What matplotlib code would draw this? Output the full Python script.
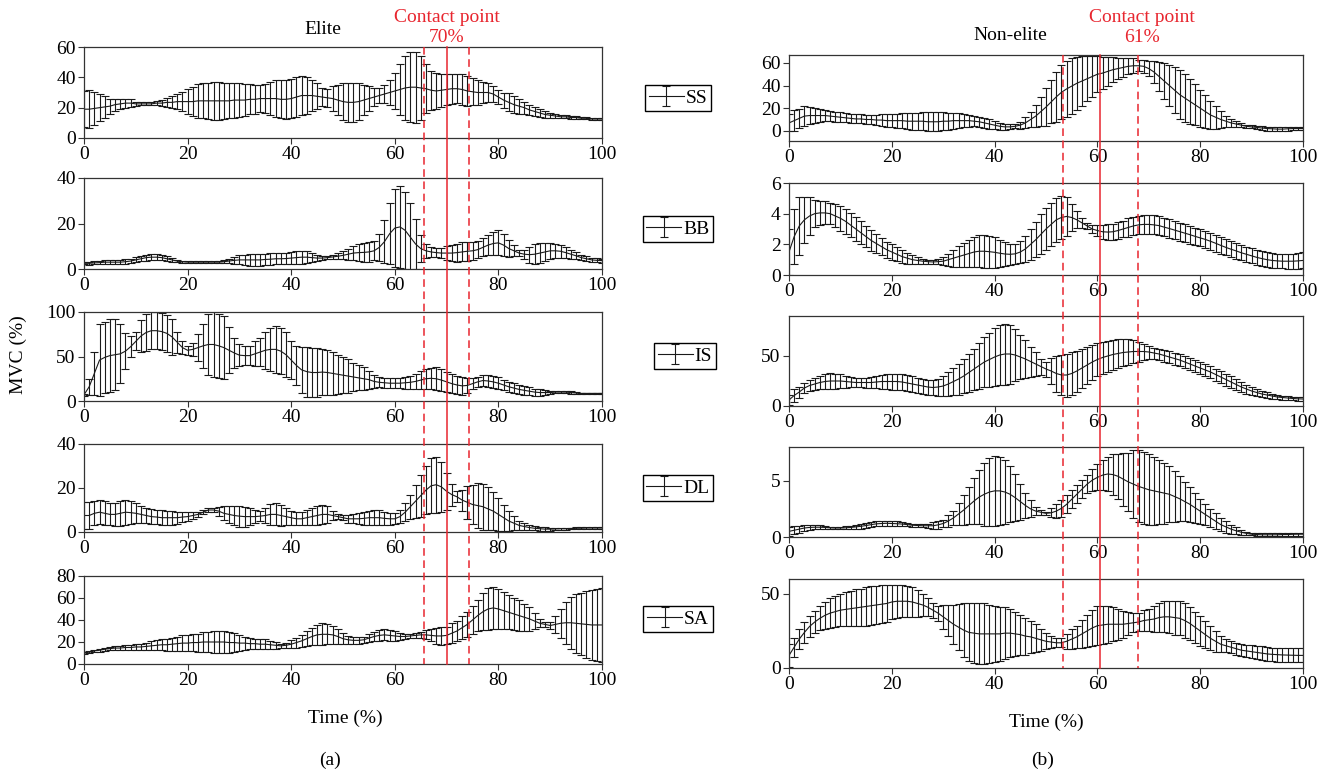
import numpy as np
import matplotlib
matplotlib.use("Agg")
import matplotlib.pyplot as plt
from matplotlib.lines import Line2D

plt.rcParams['font.family'] = ['Liberation Serif', 'DejaVu Serif']

# time axis (% of movement)
time_pct = list(range(0, 101))

# ---- Elite group: mean and SD of %MVC ----
ss_elite_mean = [19, 19, 19.5, 20, 20.5, 21, 22, 22.5, 23, 23,
                 22.5, 22.5, 22.5, 22.5, 23, 23, 23.5, 23.5, 24, 24,
                 24, 24, 24.5, 24.5, 24.5, 24.5, 24.5, 24.5, 24.5, 25,
                 25, 25, 25.5, 25.5, 26, 26, 26, 26, 25.5, 25.5,
                 26, 27, 28, 28, 28, 27.5, 27, 26.5, 26, 25,
                 24, 23.5, 23.5, 24, 25, 26, 27, 28, 29, 30,
                 31, 32, 33, 33.5, 33.5, 33, 32.5, 31.5, 31, 31.5,
                 32, 32.5, 32.5, 32, 31, 30.5, 30, 30, 30, 29,
                 27, 25, 23.5, 22, 21, 20, 18.5, 17.5, 16.5, 15.5,
                 15, 14.5, 14, 14, 13.5, 13.5, 13, 13, 12.5, 12.5, 12.5]
ss_elite_sd = [12, 12.5, 11, 9, 7, 5, 4, 3.5, 3, 2.5,
               1.5, 1, 1, 1, 1.5, 2, 3, 4, 5, 6.5,
               8, 9.5, 11, 11.5, 12, 12.5, 12.5, 12, 11.5, 11.5,
               11, 10.5, 10, 9.5, 9, 9.5, 11, 12, 12.5, 13,
               13, 13, 13, 12, 10.5, 8.5, 6, 6, 8, 10,
               12, 13, 13, 12, 10, 8, 6, 5, 6, 8,
               12, 17, 21, 23, 23.5, 21, 16, 13, 12, 11,
               10, 10, 9.5, 10, 10, 9, 8, 7, 6, 5,
               4.5, 5, 6, 5.5, 5, 4, 3.5, 3, 2.5, 2,
               1.5, 1.2, 1, 1, 1, 0.8, 0.8, 0.8, 0.8, 0.8, 0.8]

bb_elite_mean = [2.5, 2.5, 2.7, 2.8, 3, 3, 3, 3, 3.2, 3.5,
                 4, 4.5, 5, 5.2, 5.2, 5, 4.5, 4, 3.5, 3.2,
                 3, 3, 3, 3, 3, 3, 3, 3.2, 3.5, 3.8,
                 4, 4, 4, 4, 4, 4.2, 4.3, 4.5, 4.5, 4.6,
                 4.8, 5, 5.2, 5.2, 5, 4.8, 4.8, 5, 5.3, 5.6,
                 6, 6.5, 7, 7.2, 7.3, 7.5, 8, 9.5, 12, 15.5,
                 18, 18.5, 17, 14, 11, 9, 8, 7.5, 7.2, 7,
                 7, 7, 7.2, 7.5, 7.8, 8, 8.5, 9.5, 10.5, 11.2,
                 11.5, 10.5, 9, 8, 7, 6.5, 6.3, 6.5, 7, 7.5,
                 8, 8, 7.8, 7.2, 6.5, 5.8, 5, 4.5, 4, 3.8, 3.7]
bb_elite_sd = [0.5, 0.6, 0.7, 0.8, 0.9, 1, 1, 1, 1, 1,
               1.1, 1.2, 1.3, 1.3, 1.3, 1.2, 1, 0.8, 0.6, 0.5,
               0.4, 0.3, 0.3, 0.3, 0.3, 0.3, 0.4, 0.6, 1, 1.5,
               2, 2.3, 2.5, 2.5, 2.6, 2.6, 2.6, 2.5, 2.5, 2.5,
               2.6, 2.7, 2.8, 2.5, 2, 1.2, 0.8, 0.8, 1, 1.3,
               1.8, 2.5, 3.2, 3.8, 4.2, 4.3, 4.2, 6, 9.5, 13.5,
               17, 18, 17, 15, 11, 6, 3, 2.2, 2, 2.3,
               3, 3.7, 4, 4.2, 4.2, 4, 3.8, 4, 4.5, 5,
               5.5, 5, 3.8, 2.5, 1.5, 2, 3.5, 4.5, 4.5, 4,
               3.5, 3, 2.8, 2.5, 2, 1.5, 1.2, 1, 1, 0.9, 0.9]

is_elite_mean = [7, 16, 31, 46, 49, 51, 52, 53, 56, 61,
                 67, 73, 77, 79, 79, 78, 76, 72, 66, 60,
                 57, 58, 60, 62, 63.5, 63.5, 62, 60, 57, 54,
                 51.5, 51, 51, 53, 55, 57, 58, 58, 56, 52,
                 46, 40, 35, 33, 32, 32, 32.5, 32, 31, 30,
                 29, 28, 27, 26, 25, 24, 22, 21, 20.5, 20,
                 20, 20, 20.5, 21, 22, 23.5, 25, 25.5, 25, 23.5,
                 21.5, 19.5, 18, 17, 17.5, 19.5, 21.5, 23, 22.5, 21.5,
                 20, 18, 16, 14.5, 13, 12, 11, 10, 9.5, 9.5,
                 9.5, 10, 10, 10, 9.5, 9, 8.5, 8.5, 8.5, 8.5, 8.5]
is_elite_sd = [1, 9, 24, 40, 40, 41, 40, 33, 20, 12,
               10, 18, 21, 21, 21, 21, 21, 20, 12, 7,
               5, 7, 15, 25, 34, 37, 36, 35, 26, 17,
               12, 11, 11, 14, 16, 21, 24, 26, 26, 25,
               21, 22, 26, 28, 28, 28, 26, 25, 24, 22,
               20, 19, 16, 14, 13, 10, 7, 5.5, 5.5, 5.5,
               5.5, 5.5, 6.5, 7, 8.5, 10, 11, 12, 13, 12.5,
               11, 10.5, 10.5, 10, 8, 6, 6, 6.5, 7, 7,
               6.5, 5.5, 5.5, 5.5, 5.5, 5, 4.5, 4, 3.5, 2.5,
               1.5, 1.2, 1.2, 1.2, 1.2, 1, 1, 1, 1, 1, 1]

dl_elite_mean = [7.5, 7.5, 8.5, 9, 8.5, 8, 8, 8.5, 9, 8.8,
                 8.5, 8, 7.5, 7, 6.8, 6.5, 6.5, 6.5, 6.5, 6.8,
                 7, 7.5, 8, 9, 10, 10, 9.5, 8.5, 8, 7.5,
                 7.2, 7, 7, 7, 7.2, 7.5, 8, 8, 7.5, 7,
                 6.5, 6, 6, 6.5, 7, 7.5, 8, 8, 7.5, 7,
                 6.5, 6, 6, 6, 6.2, 6.5, 6.5, 6.5, 6.2, 6,
                 6, 7, 9, 11.5, 14, 16.5, 19, 21, 21.5, 20.5,
                 18.5, 17, 16, 14.5, 13.5, 12.5, 12, 11.5, 10.5, 9.5,
                 8, 6.5, 5, 4, 3, 2.5, 2, 1.7, 1.5, 1.3,
                 1.3, 1.4, 1.5, 1.5, 1.6, 1.7, 1.7, 1.8, 1.8, 1.8, 1.8]
dl_elite_sd = [6.2, 6, 5.5, 5.5, 5.5, 5, 5.2, 5.7, 5.7, 5.3,
               4.5, 4, 3.5, 3.5, 3.3, 3.3, 3.2, 3.2, 2.8, 2.3,
               2, 1.5, 1.2, 1, 1, 1, 2, 3.2, 4, 4.5,
               4.7, 4.5, 4, 3, 2.3, 3.5, 4.8, 5, 4.8, 3.8,
               3.2, 3, 3, 3.5, 3.8, 4.2, 4.5, 3.8, 2, 1.3,
               1.2, 1.8, 2, 2.5, 2.8, 3.2, 3.5, 3.5, 3, 2.8,
               2.5, 2.8, 4, 5.5, 7.5, 9.5, 11, 12.5, 12.8, 11.5,
               8.5, 5, 2.5, 4.8, 7.5, 8.8, 10.2, 10.5, 9.8, 8.5,
               7.5, 6, 4.5, 3.2, 2, 1.4, 1.1, 1, 1, 0.8,
               0.65, 0.55, 0.5, 0.45, 0.4, 0.4, 0.35, 0.35, 0.35, 0.35, 0.35]

sa_elite_mean = [10, 11, 12, 12.5, 13.5, 14, 14.5, 14.5, 15, 15,
                 15.5, 15.5, 16, 16.5, 17, 17.5, 17.5, 18, 18.5, 19,
                 19, 19.5, 19.5, 20, 20, 20, 20, 20, 19.5, 19.5,
                 19, 19, 18.5, 18.5, 18, 18, 17.5, 17, 16.5, 17,
                 18, 19.5, 21, 23, 25, 26.5, 27, 27, 26.5, 25,
                 23, 22, 21.5, 21.5, 22, 23.5, 25, 26, 26.5, 26,
                 25.5, 25, 25, 25.5, 26, 26.5, 26.5, 26, 25.5, 25.5,
                 26, 28, 30, 33, 36, 40, 44, 47.5, 50, 51,
                 50, 48.5, 47, 45.5, 44, 42.5, 41, 39, 37, 36,
                 35, 36, 37, 37.5, 37.5, 37, 36.5, 36, 35.5, 35.5, 35.5]
sa_elite_sd = [1, 1, 1, 1.2, 1.3, 1.5, 1.7, 2, 2.2, 2.3,
               2.5, 3, 3.5, 4, 4.5, 5, 5.5, 6, 6.5, 7,
               7.3, 7.6, 8.2, 8.8, 9.5, 10, 10.2, 10.2, 9.5, 8.5,
               7, 6, 5, 4.5, 4.5, 4.3, 3.8, 3, 2, 2.5,
               3.5, 4.5, 5.5, 6.8, 8, 9.2, 10, 9.2, 8, 6.5,
               5, 3.8, 3, 3, 3, 3.8, 4.5, 5, 5, 4.8,
               4.5, 3.3, 2, 2, 2, 3, 4, 5.5, 7, 8.5,
               8, 9, 9.5, 10.5, 11.5, 12.5, 14, 17, 19, 19,
               18, 16.8, 15.5, 14.8, 14, 12.5, 11, 7.5, 3.5, 2,
               3, 7.5, 13, 19, 23.5, 27, 28.5, 30.5, 31.7, 32.5, 33.5]

# ---- Non-elite group ----
ss_non_mean = [7, 9, 11, 13, 13.5, 13.5, 13.5, 13.5, 13, 12.5,
               12, 11.5, 11, 10.5, 10.5, 10, 10, 9.5, 9.5, 9,
               9, 9, 9, 8.5, 8.5, 8.5, 8.5, 8, 8, 8,
               8.5, 8.5, 9, 9, 9, 9, 8.5, 8, 7, 6,
               5, 4, 3.5, 3.5, 4, 5, 7, 10, 13, 17,
               21, 25.5, 30, 34, 37, 39.5, 42, 44, 46, 48,
               50, 51, 52.5, 54, 55, 56, 57, 57.5, 57.5, 57,
               55, 52, 48, 44, 40, 36, 32, 29, 26, 23,
               20, 17, 14, 12, 10, 8.5, 7, 6, 5, 4,
               3.5, 3, 2.5, 2, 1.8, 1.5, 1.5, 1.8, 2, 2, 2]
ss_non_sd = [7.5, 9, 8.5, 9, 7.5, 6.8, 6, 5.2, 4.5, 4.5,
             4.2, 4, 4, 4, 4, 4.2, 4.3, 4.7, 5, 5.5,
             6, 6.3, 6.8, 7, 7.5, 7.5, 8, 8.2, 8.2, 8.2,
             7.8, 7.5, 7, 6.5, 5.8, 5.2, 4.5, 4.2, 4.2, 4,
             3.5, 3.2, 2.7, 2.2, 1.8, 3, 4.8, 6.5, 9.5, 12.8,
             16.5, 19, 22, 24, 25, 24.5, 23.5, 22, 20, 18,
             16, 14, 12.5, 11, 9.5, 8.5, 7, 6.5, 5, 5.5,
             7, 9.5, 12.5, 15.5, 18, 20, 21.5, 21, 20, 18,
             16.2, 14.5, 12, 10, 7.5, 5, 3.5, 2.5, 2, 1.3,
             1.3, 1.5, 1.7, 1.8, 1.8, 1.8, 1.8, 1.6, 1.5, 1.5, 1.5]

bb_non_mean = [1.5, 2.5, 3.2, 3.6, 3.85, 4, 4.05, 4.05, 4, 3.85,
               3.7, 3.5, 3.25, 3, 2.75, 2.5, 2.25, 2.05, 1.85, 1.65,
               1.5, 1.35, 1.2, 1.1, 1.0, 0.95, 0.9, 0.87, 0.85, 0.87,
               0.9, 1.0, 1.1, 1.2, 1.3, 1.4, 1.5, 1.55, 1.55, 1.52,
               1.48, 1.42, 1.37, 1.35, 1.38, 1.5, 1.7, 2.0, 2.3, 2.65,
               3.0, 3.3, 3.6, 3.75, 3.82, 3.75, 3.6, 3.4, 3.2, 3.0,
               2.9, 2.82, 2.8, 2.82, 2.9, 3.0, 3.1, 3.2, 3.27, 3.3,
               3.3, 3.27, 3.22, 3.12, 3.03, 2.93, 2.83, 2.73, 2.63, 2.52,
               2.42, 2.32, 2.2, 2.07, 1.93, 1.8, 1.68, 1.57, 1.45, 1.35,
               1.25, 1.15, 1.07, 1.0, 0.95, 0.92, 0.9, 0.9, 0.9, 0.92, 0.95]
bb_non_sd = [1.5, 1.8, 1.9, 1.5, 1.25, 0.9, 0.8, 0.75, 0.7, 0.75,
             0.8, 0.8, 0.8, 0.78, 0.75, 0.7, 0.68, 0.6, 0.55, 0.52,
             0.5, 0.45, 0.4, 0.35, 0.3, 0.22, 0.15, 0.12, 0.13, 0.18,
             0.28, 0.4, 0.55, 0.68, 0.8, 0.9, 1.0, 1.05, 1.08, 1.05,
             1.0, 0.88, 0.78, 0.7, 0.66, 0.72, 0.85, 1.0, 1.15, 1.3,
             1.38, 1.42, 1.42, 1.38, 1.25, 0.9, 0.55, 0.35, 0.2, 0.27,
             0.37, 0.45, 0.5, 0.52, 0.55, 0.55, 0.6, 0.6, 0.6, 0.62,
             0.62, 0.62, 0.6, 0.6, 0.6, 0.58, 0.58, 0.58, 0.58, 0.57,
             0.56, 0.56, 0.56, 0.55, 0.54, 0.52, 0.52, 0.52, 0.5, 0.5,
             0.48, 0.48, 0.47, 0.47, 0.47, 0.47, 0.47, 0.48, 0.49, 0.5, 0.52]

is_non_mean = [6, 10.5, 14, 18, 20.5, 22, 23.5, 24.5, 25, 25,
               25, 24.5, 24, 23.5, 23.5, 23.5, 23.5, 24, 24.5, 24.5,
               24.5, 24.5, 24, 23, 22, 21, 20, 19, 18.5, 19,
               20, 22, 24.5, 27, 30, 33.5, 37, 40.5, 44, 46.5,
               49, 51, 52, 52, 51, 49, 47, 44.5, 42, 39.5,
               37, 35, 32.5, 31, 31, 32.5, 35, 38, 41, 44,
               46.5, 48.5, 50, 51.5, 52.5, 53.5, 54, 54.5, 54.5, 54.5,
               54, 53, 52, 50.5, 49, 47.5, 46, 44, 42, 40,
               38, 36, 34, 31.5, 29, 26.5, 24, 21.5, 19, 17,
               15, 13.5, 12, 11, 10, 9, 8.5, 8, 7.5, 7.2, 7]
is_non_sd = [5, 6.5, 5.5, 5, 5.5, 6, 6.5, 7.5, 8, 7.5,
             7, 6, 5, 4.5, 4.5, 5, 5.5, 6, 7, 7.5,
             8, 8, 8, 8, 8, 7.5, 7.5, 7.5, 7.5, 8.5,
             10, 12, 13.5, 15.5, 17, 19, 20.5, 23, 25, 27,
             29, 30, 30.5, 29.5, 26, 22, 19, 15, 12, 8,
             7.5, 13, 18, 20, 21.5, 21.5, 20.5, 19.5, 18.5, 17.5,
             16.5, 16, 15.5, 15, 14.5, 13.5, 13, 11.5, 10, 8,
             6.5, 5.5, 5.5, 6, 6, 6, 6, 6, 6, 6,
             6, 6, 6, 6, 6, 6, 6, 5.5, 5, 4.5,
             4, 3.5, 3, 2.8, 2.5, 2.2, 2, 1.9, 1.8, 1.8, 1.8]

dl_non_mean = [0.5, 0.6, 0.7, 0.8, 0.85, 0.87, 0.87, 0.85, 0.82, 0.8,
               0.8, 0.82, 0.85, 0.9, 0.95, 1.02, 1.1, 1.17, 1.2, 1.22,
               1.2, 1.18, 1.15, 1.1, 1.05, 1.02, 1.0, 1.0, 1.0, 1.08,
               1.2, 1.42, 1.7, 2.05, 2.4, 2.8, 3.2, 3.55, 3.8, 4.0,
               4.1, 4.1, 4.0, 3.8, 3.5, 3.15, 2.8, 2.5, 2.3, 2.2,
               2.1, 2.15, 2.3, 2.55, 2.9, 3.35, 3.8, 4.25, 4.7, 5.05,
               5.3, 5.5, 5.6, 5.55, 5.4, 5.15, 4.9, 4.7, 4.5, 4.35,
               4.2, 4.1, 4.0, 3.9, 3.8, 3.6, 3.4, 3.15, 2.9, 2.6,
               2.3, 2.0, 1.7, 1.4, 1.1, 0.9, 0.7, 0.55, 0.42, 0.32,
               0.25, 0.22, 0.2, 0.2, 0.2, 0.2, 0.22, 0.22, 0.24, 0.25, 0.25]
dl_non_sd = [0.4, 0.35, 0.3, 0.25, 0.2, 0.18, 0.17, 0.12, 0.08, 0.08,
             0.1, 0.13, 0.17, 0.2, 0.22, 0.22, 0.2, 0.22, 0.23, 0.23,
             0.22, 0.2, 0.17, 0.14, 0.12, 0.13, 0.15, 0.2, 0.3, 0.33,
             0.35, 0.5, 0.65, 0.95, 1.3, 1.6, 2.0, 2.4, 2.8, 3.0,
             3.1, 3.0, 2.85, 2.5, 2.1, 1.6, 1.15, 0.75, 0.35, 0.2,
             0.15, 0.4, 0.65, 0.75, 0.8, 0.8, 0.8, 0.8, 0.8, 1.0,
             1.15, 1.3, 1.5, 1.8, 2.0, 2.35, 2.6, 3.0, 3.2, 3.2,
             3.15, 3.0, 2.85, 2.7, 2.5, 2.3, 2.0, 1.75, 1.55, 1.35,
             1.1, 0.95, 0.8, 0.7, 0.6, 0.5, 0.4, 0.3, 0.2, 0.13,
             0.1, 0.12, 0.13, 0.14, 0.14, 0.15, 0.15, 0.15, 0.15, 0.15, 0.15]

sa_non_mean = [8.5, 14, 19.5, 24, 28, 31, 33.5, 35.5, 37, 38,
               39, 39.5, 40, 40.5, 41, 41.5, 42, 42.5, 43, 43.5,
               44.5, 45, 45, 45, 44.5, 43.5, 42.5, 41, 39, 37,
               34.5, 32, 29.5, 27.5, 25.5, 24, 23.5, 23, 23, 23,
               23, 23, 23.5, 23.5, 23, 22.5, 21.5, 21, 20, 19,
               18, 17.5, 17, 17, 18, 19.5, 21, 23, 25, 27,
               28.5, 29, 29.5, 29.5, 29.5, 29.5, 30, 30.5, 31, 32,
               32.5, 33, 34, 34.5, 34.5, 34, 33.5, 32, 30, 27.5,
               25, 22.5, 20, 18, 16, 15, 14, 13, 12, 11.5,
               11, 10.5, 10, 9.5, 9.2, 9, 8.8, 8.7, 8.6, 8.5, 8.5]
sa_non_sd = [7.5, 6.5, 6.5, 7, 7, 7.5, 8, 9, 10, 10.5,
             11, 11.5, 12, 12.5, 12.5, 13, 13, 13, 12.8, 12.3,
             11.5, 11, 10.7, 10.3, 10, 9, 7.5, 6, 5, 5,
             8, 10.5, 13, 15.5, 18, 19.5, 20.3, 20.5, 20.5, 19.5,
             19, 18, 17.5, 16, 15, 13.5, 12.5, 11, 9.5, 7.5,
             5.3, 4, 3, 3, 5, 6.5, 7.5, 9.5, 11, 12,
             13, 13, 12.5, 11.5, 10.5, 9, 7.5, 6.5, 6, 7,
             7.5, 8.5, 9.5, 10.5, 11, 11.5, 11.5, 11.5, 11, 10.5,
             10, 9, 8, 7, 5.5, 4.5, 4, 4, 4.2, 4.3,
             4.3, 4.4, 4.5, 4.6, 4.6, 4.7, 4.7, 4.7, 4.7, 4.7, 4.7]

muscle_labels = ['SS', 'BB', 'IS', 'DL', 'SA']
elite_series = [(ss_elite_mean, ss_elite_sd), (bb_elite_mean, bb_elite_sd),
                (is_elite_mean, is_elite_sd), (dl_elite_mean, dl_elite_sd),
                (sa_elite_mean, sa_elite_sd)]
non_series = [(ss_non_mean, ss_non_sd), (bb_non_mean, bb_non_sd),
              (is_non_mean, is_non_sd), (dl_non_mean, dl_non_sd),
              (sa_non_mean, sa_non_sd)]

elite_ylims = [(0, 60), (0, 40), (0, 100), (0, 40), (0, 80)]
elite_yticks = [[0, 20, 40, 60], [0, 20, 40], [0, 50, 100], [0, 20, 40], [0, 20, 40, 60, 80]]
non_ylims = [(-9, 67), (0, 6), (0, 90), (0, 8), (0, 60)]
non_yticks = [[0, 20, 40, 60], [0, 2, 4, 6], [0, 50], [0, 5], [0, 50]]

# contact point (solid) with the dashed band around it
elite_contact = [65.7, 70.0, 74.4]
non_contact = [53.3, 60.6, 67.9]

W, H = 1330, 776
fig = plt.figure(figsize=(W / 100, H / 100), dpi=100)

def px_rect(x0, x1, ytop, ybot):
    return [x0 / W, 1 - ybot / H, (x1 - x0) / W, (ybot - ytop) / H]

left_rows = [(47, 138), (178, 269), (312, 401), (444, 532), (576, 664)]
right_rows = [(55, 141), (183, 275), (316, 406), (447, 537), (579, 668)]
legend_centres = [(678, 98), (678, 229), (685, 356), (678, 488), (678, 619)]

red = '#e8262f'
fs = 14

def style_axis(ax, ylim, yticks):
    ax.set_xlim(0, 100)
    ax.set_ylim(*ylim)
    ax.set_yticks(yticks)
    ax.set_xticks([0, 20, 40, 60, 80, 100])
    ax.tick_params(labelsize=fs, length=4, width=0.8, color='#333333', pad=2)
    for sp in ax.spines.values():
        sp.set_linewidth(0.9)
        sp.set_color('#333333')

def draw_series(ax, mean, sd):
    return ax.errorbar(time_pct, mean, yerr=sd, color='#1a1a1a', lw=0.8,
                       elinewidth=0.8, capsize=3, capthick=0.8)

left_axes, right_axes = [], []
for i in range(5):
    ax = fig.add_axes(px_rect(84, 602, *left_rows[i]))
    draw_series(ax, *elite_series[i])
    style_axis(ax, elite_ylims[i], elite_yticks[i])
    left_axes.append(ax)

    ax2 = fig.add_axes(px_rect(789, 1303, *right_rows[i]))
    h = draw_series(ax2, *non_series[i])
    style_axis(ax2, non_ylims[i], non_yticks[i])
    right_axes.append(ax2)

    cx, cy = legend_centres[i]
    leg = fig.legend([h], [muscle_labels[i]], loc='center',
                     bbox_to_anchor=(cx / W, 1 - cy / H), fontsize=fs,
                     frameon=True, fancybox=False, framealpha=1,
                     handlelength=1.8, handletextpad=0.1, borderpad=0.2,
                     borderaxespad=0)
    leg.get_frame().set_edgecolor('black')
    leg.get_frame().set_linewidth(1.0)

# contact point lines spanning all five panels
def contact_lines(axes, xs):
    top_ax, bot_ax = axes[0], axes[-1]
    inv = fig.transFigure.inverted()
    for k, xv in enumerate(xs):
        x_top, y_top = inv.transform(top_ax.transData.transform((xv, top_ax.get_ylim()[1])))
        x_bot, y_bot = inv.transform(bot_ax.transData.transform((xv, bot_ax.get_ylim()[0])))
        ls = '-' if k == 1 else (0, (5, 3))
        fig.add_artist(Line2D([x_top, x_bot], [y_top, y_bot], color=red,
                              lw=1.1, ls=ls, transform=fig.transFigure))

contact_lines(left_axes, elite_contact)
contact_lines(right_axes, non_contact)

fig.text(323 / W, 1 - 29 / H, 'Elite', ha='center', va='center', fontsize=fs)
fig.text(1010 / W, 1 - 35 / H, 'Non-elite', ha='center', va='center', fontsize=fs)
fig.text(447 / W, 1 - 17 / H, 'Contact point', ha='center', va='center',
         fontsize=fs, color=red)
fig.text(447 / W, 1 - 38 / H, '70%', ha='center', va='center',
         fontsize=fs, color=red)
fig.text(1142 / W, 1 - 17 / H, 'Contact point', ha='center', va='center',
         fontsize=fs, color=red)
fig.text(1142 / W, 1 - 38 / H, '61%', ha='center', va='center',
         fontsize=fs, color=red)

fig.text(18 / W, 1 - 355 / H, 'MVC (%)', rotation=90, ha='center', va='center', fontsize=fs)
fig.text(345 / W, 1 - 718 / H, 'Time (%)', ha='center', va='center', fontsize=fs)
fig.text(1046 / W, 1 - 722 / H, 'Time (%)', ha='center', va='center', fontsize=fs)
fig.text(330 / W, 1 - 760 / H, '(a)', ha='center', va='center', fontsize=fs)
fig.text(1043 / W, 1 - 760 / H, '(b)', ha='center', va='center', fontsize=fs)

fig.savefig('out.png', dpi=100)
